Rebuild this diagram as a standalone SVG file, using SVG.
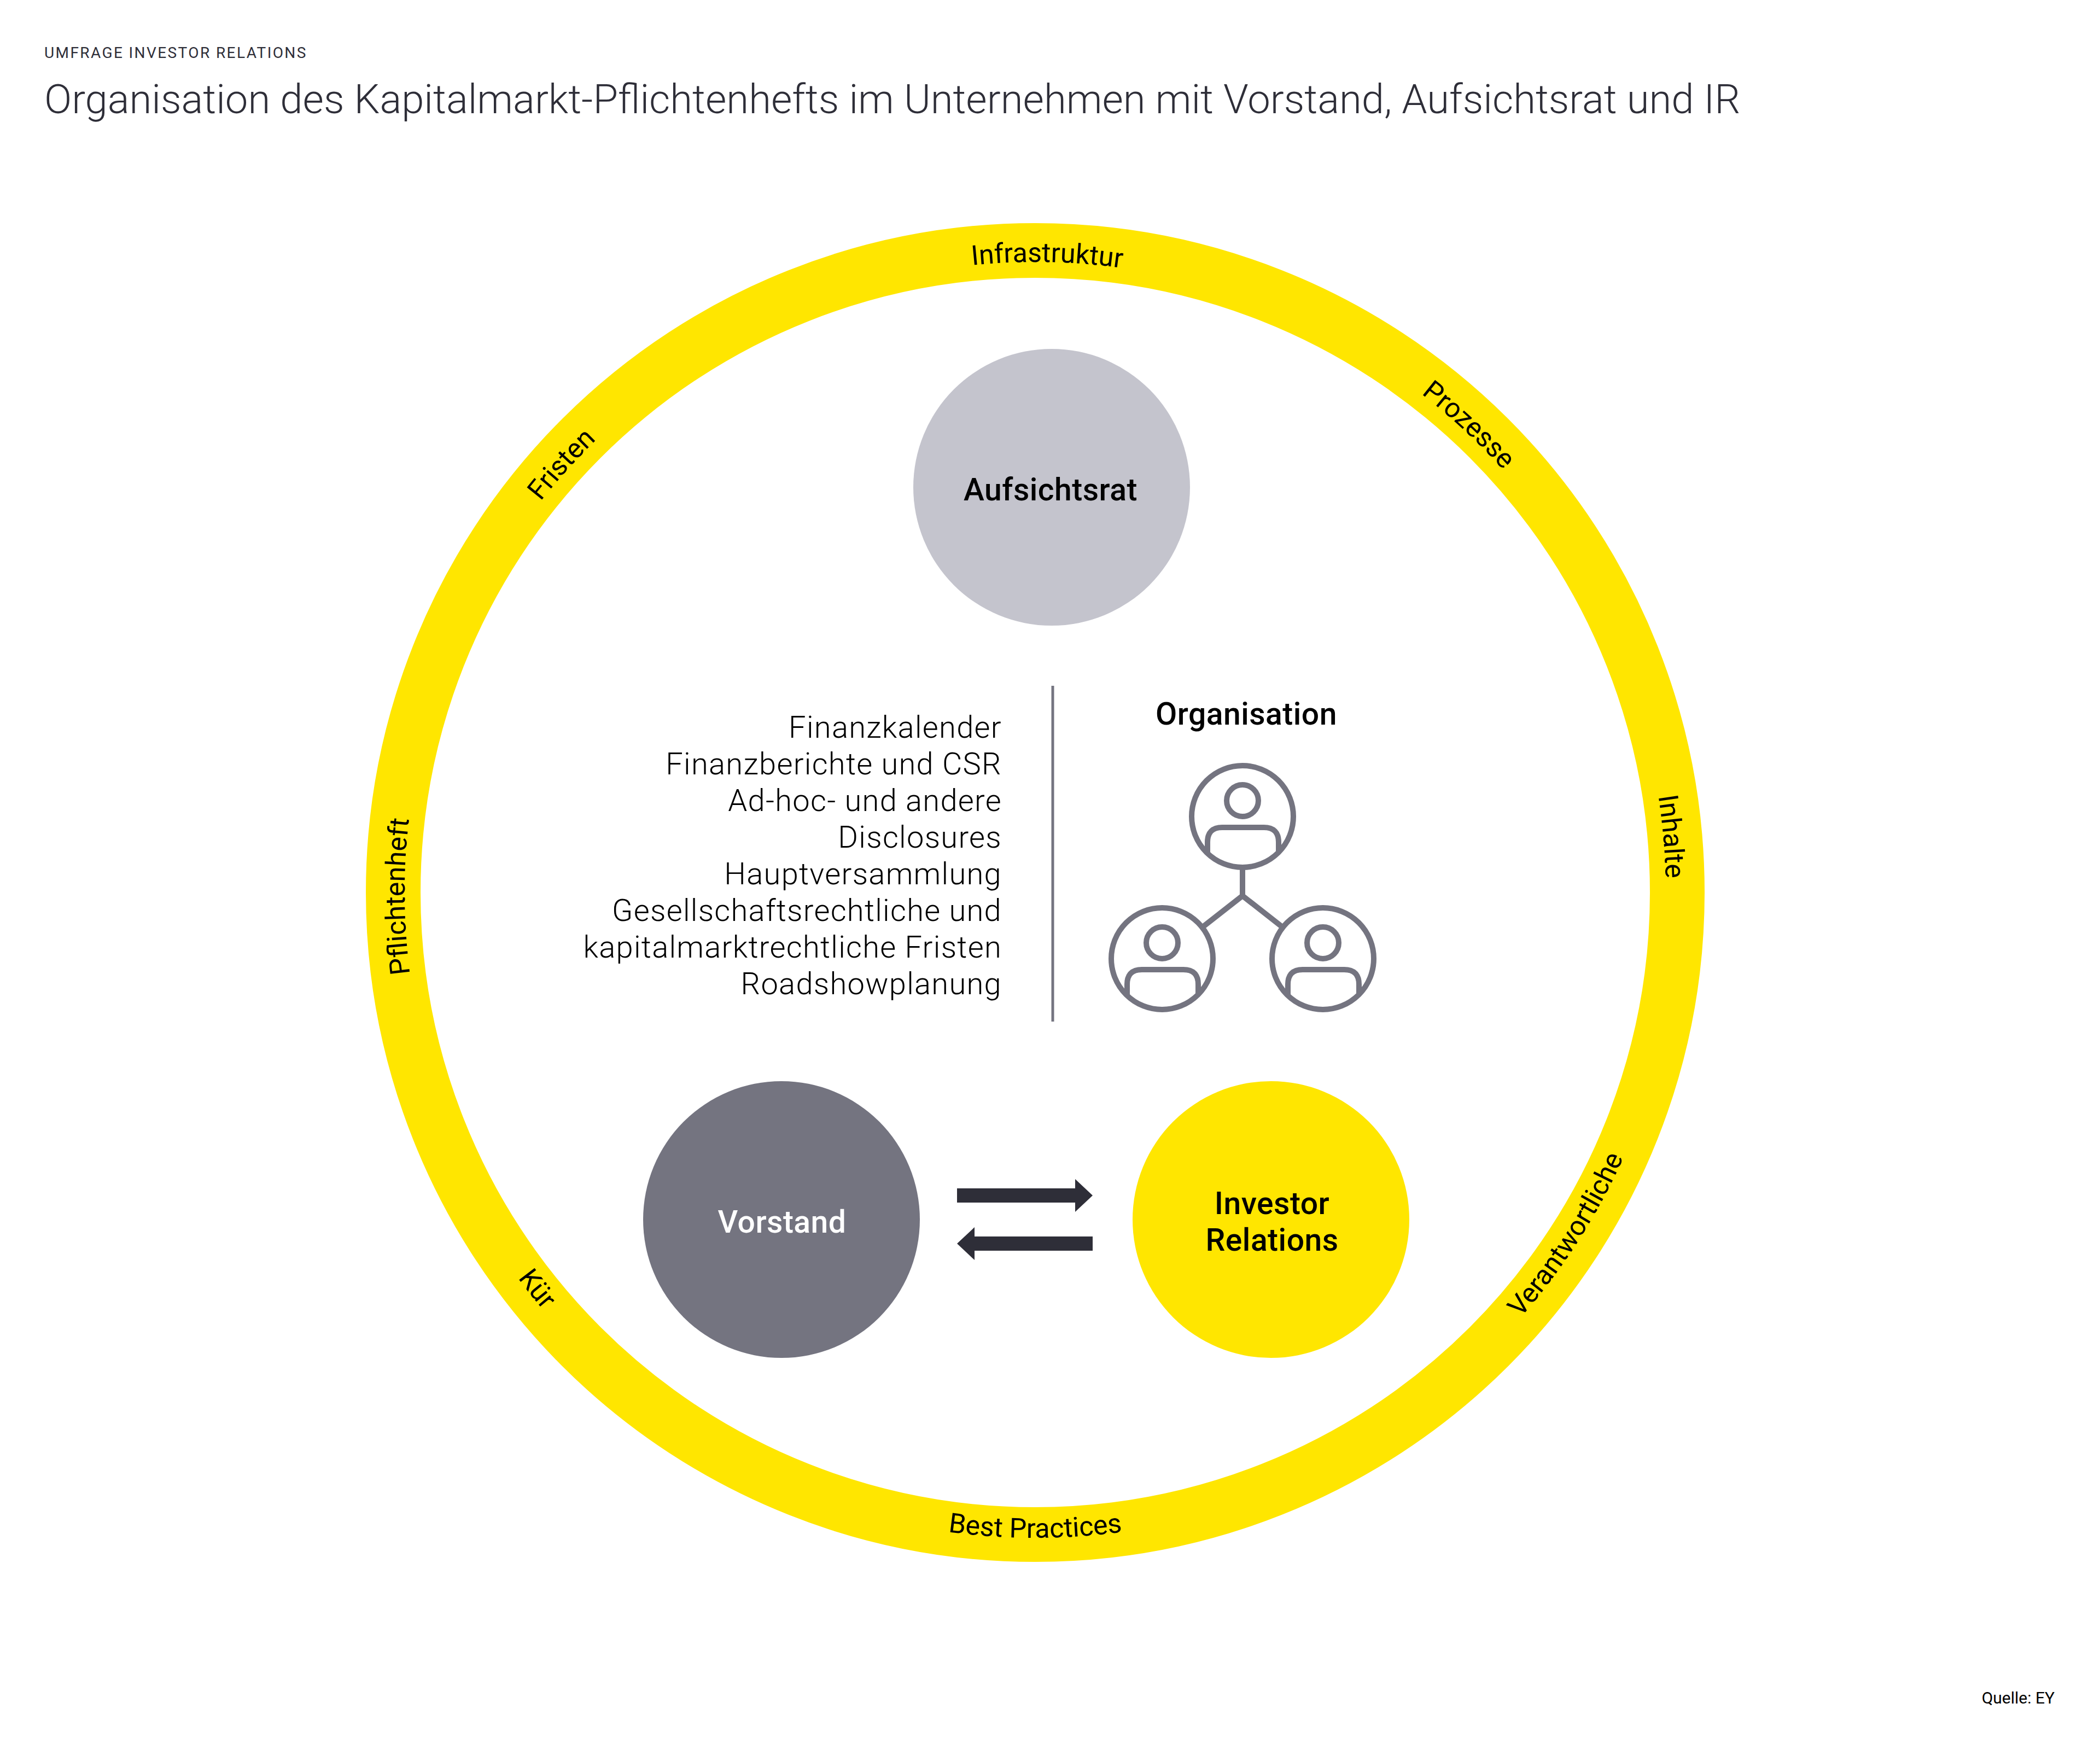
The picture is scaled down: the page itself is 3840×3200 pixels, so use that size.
<svg xmlns="http://www.w3.org/2000/svg" xmlns:xlink="http://www.w3.org/1999/xlink" width="3840" height="3200" viewBox="0 0 3840 3200">
<style>
text{font-family:Roboto,"Liberation Sans",sans-serif}
.hdr{font-size:28px;letter-spacing:2.4px;fill:#2E2E38}
.title{font-size:74.2px;font-weight:300;fill:#2E2E38}
.list{font-size:56px;font-weight:300;letter-spacing:1.3px;fill:#000;text-anchor:end}
.lbl{font-size:57px;font-weight:500;letter-spacing:0.5px;text-anchor:middle}
.ring{font-size:50px;fill:#000;text-anchor:middle}
.src{font-size:30px;fill:#000;text-anchor:end}
.icon{fill:none;stroke:#747480;stroke-width:10;stroke-linejoin:round}
.arrow{fill:#2E2E38}
</style>
<defs>
<path id="cw" d="M 1893 2785 A 1153 1153 0 1 1 1893 479 A 1153 1153 0 1 1 1893 2785"/>
<path id="ccw" d="M 1893 452 A 1180 1180 0 1 0 1893 2812 A 1180 1180 0 1 0 1893 452"/>
</defs>
<rect width="3840" height="3200" fill="#fff"/>
<g id="header">
<text class="hdr" x="81" y="106">UMFRAGE INVESTOR RELATIONS</text>
<text class="title" x="81" y="207">Organisation des Kapitalmarkt-Pflichtenhefts im Unternehmen mit Vorstand, Aufsichtsrat und IR</text>
</g>
<g id="ring">
<circle cx="1893" cy="1632" r="1174" fill="none" stroke="#FFE600" stroke-width="100"/>
<text class="ring"><textPath xlink:href="#cw" href="#cw" startOffset="24.9%">Pflichtenheft</textPath></text>
<text class="ring"><textPath xlink:href="#cw" href="#cw" startOffset="36.7%">Fristen</textPath></text>
<text class="ring"><textPath xlink:href="#cw" href="#cw" startOffset="50.3%">Infrastruktur</textPath></text>
<text class="ring"><textPath xlink:href="#cw" href="#cw" startOffset="61.9%">Prozesse</textPath></text>
<text class="ring"><textPath xlink:href="#cw" href="#cw" startOffset="73.6%">Inhalte</textPath></text>
<text class="ring"><textPath xlink:href="#ccw" href="#ccw" startOffset="65.9%">Verantwortliche</textPath></text>
<text class="ring"><textPath xlink:href="#ccw" href="#ccw" startOffset="50.0%">Best Practices</textPath></text>
<text class="ring"><textPath xlink:href="#ccw" href="#ccw" startOffset="35.7%">Kür</textPath></text>
</g>
<g id="aufsichtsrat">
<circle cx="1923" cy="891" r="253" fill="#C4C4CD"/>
<text class="lbl" x="1921" y="915" fill="#000">Aufsichtsrat</text>
</g>
<g id="pflichten-liste">
<text class="list" x="1832" y="1349">Finanzkalender<tspan x="1832" dy="67">Finanzberichte und CSR</tspan><tspan x="1832" dy="67">Ad-hoc- und andere</tspan><tspan x="1832" dy="67">Disclosures</tspan><tspan x="1832" dy="67">Hauptversammlung</tspan><tspan x="1832" dy="67">Gesellschaftsrechtliche und</tspan><tspan x="1832" dy="67">kapitalmarktrechtliche Fristen</tspan><tspan x="1832" dy="67">Roadshowplanung</tspan></text>
</g>
<g id="divider">
<line x1="1925" y1="1254" x2="1925" y2="1868" stroke="#747480" stroke-width="5"/>
</g>
<g id="organisation">
<text class="lbl" x="2279" y="1325" fill="#000">Organisation</text>
<g class="icon">
<circle cx="2272" cy="1493" r="93"/>
<circle cx="2272" cy="1464" r="29"/>
<path d="M 2208 1561 V 1540 Q 2208 1513 2235 1513 H 2311 Q 2338 1513 2338 1540 V 1559"/>
<circle cx="2125" cy="1753" r="93"/>
<circle cx="2125" cy="1724" r="29"/>
<path d="M 2061 1821 V 1800 Q 2061 1773 2088 1773 H 2164 Q 2191 1773 2191 1800 V 1819"/>
<circle cx="2419" cy="1753" r="93"/>
<circle cx="2419" cy="1724" r="29"/>
<path d="M 2355 1821 V 1800 Q 2355 1773 2382 1773 H 2458 Q 2485 1773 2485 1800 V 1819"/>
<path d="M 2272 1586 V 1638 L 2198 1696 M 2272 1638 L 2346 1696"/>
</g>
</g>
<g id="vorstand">
<circle cx="1429" cy="2230" r="253" fill="#747480"/>
<text class="lbl" x="1430" y="2254" fill="#fff">Vorstand</text>
</g>
<g id="investor-relations">
<circle cx="2324" cy="2230" r="253" fill="#FFE600"/>
<text class="lbl" x="2326" y="2220" fill="#000">Investor<tspan x="2326" dy="67">Relations</tspan></text>
</g>
<g id="connectors">
<polygon class="arrow" points="1750,2173 1966,2173 1966,2156 1998,2186 1966,2216 1966,2199 1750,2199"/>
<polygon class="arrow" points="1998,2261 1782,2261 1782,2244 1750,2274 1782,2304 1782,2287 1998,2287"/>
</g>
<g id="source">
<text class="src" x="3757" y="3115">Quelle: EY</text>
</g>
</svg>
